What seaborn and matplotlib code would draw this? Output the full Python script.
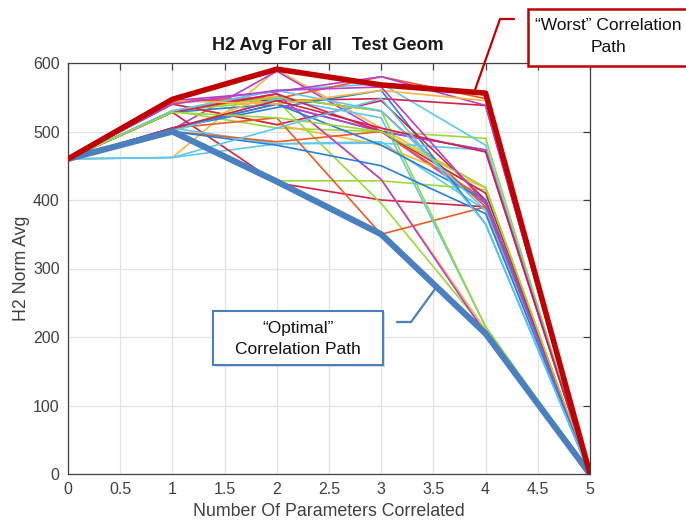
import numpy as np
import pandas as pd
import matplotlib
matplotlib.use("Agg")
import matplotlib.pyplot as plt
import seaborn as sns
from matplotlib.patches import Rectangle
from matplotlib.lines import Line2D

# Number of parameters correlated (x) and H2 norm averages along each path
n_params = [0, 1, 2, 3, 4, 5]
start_h2 = 460
end_h2 = 0

# H2 norm at 1..4 correlated parameters for each tested correlation order
path_mid_values = [
    [462, 590, 505, 418],
    [462, 482, 485, 385],
    [503, 588, 500, 395],
    [530, 505, 500, 490],
    [528, 425, 400, 390],
    [503, 428, 428, 415],
    [528, 540, 500, 473],
    [545, 550, 530, 390],
    [530, 560, 570, 480],
    [545, 545, 548, 538],
    [543, 548, 580, 548],
    [545, 558, 580, 538],
    [505, 535, 560, 365],
    [540, 510, 480, 418],
    [530, 545, 395, 210],
    [505, 482, 483, 473],
    [500, 485, 500, 400],
    [540, 510, 545, 400],
    [505, 540, 500, 473],
    [500, 555, 430, 210],
    [505, 520, 350, 390],
    [500, 548, 520, 215],
    [530, 555, 430, 205],
    [530, 550, 530, 215],
    [505, 540, 480, 400],
    [528, 555, 500, 410],
    [530, 560, 530, 385],
    [545, 540, 560, 545],
    [528, 520, 500, 418],
    [540, 560, 565, 395],
    [500, 480, 450, 380],
    [505, 545, 505, 470],
    [462, 505, 548, 365],
]
path_colors = ["#f6b93b", "#5cc8f2", "#b83fd0", "#9ad93a", "#d62045", "#9ad93a",
               "#2a7fd6", "#ee5a24", "#5cc8f2", "#d62045", "#ee5a24", "#b83fd0",
               "#2a7fd6", "#f6b93b", "#9ad93a", "#5cc8f2", "#ee5a24", "#d62045",
               "#b83fd0", "#f6b93b", "#ee5a24", "#5cc8f2", "#b83fd0", "#9ad93a",
               "#2a7fd6", "#d62045", "#5cc8f2", "#f6b93b", "#9ad93a", "#b83fd0",
               "#2a7fd6", "#d62045", "#5cc8f2"]

worst_path = [460, 547, 591, 568, 556, 0]
optimal_path = [460, 500, 427, 350, 205, 0]

x_ticks = [0, 0.5, 1, 1.5, 2, 2.5, 3, 3.5, 4, 4.5, 5]
x_tick_labels = ["0", "0.5", "1", "1.5", "2", "2.5", "3", "3.5", "4", "4.5", "5"]
y_ticks = [0, 100, 200, 300, 400, 500, 600]

sns.set_style("white")
plt.rcParams["font.family"] = ["Liberation Sans", "DejaVu Sans"]

rows = []
for i, mids in enumerate(path_mid_values):
    vals = [start_h2] + mids + [end_h2]
    for x, v in zip(n_params, vals):
        rows.append({"path": i, "n": x, "h2": v})
df = pd.DataFrame(rows)

W, H = 686, 525
fig = plt.figure(figsize=(W / 100, H / 100), dpi=100)
ax = fig.add_axes([68 / W, 1 - 474 / H, (590 - 68) / W, (474 - 63) / H])


def fx(px):
    return px / W


def fy(py):
    return 1 - py / H


sns.lineplot(data=df, x="n", y="h2", hue="path", palette=path_colors,
             estimator=None, sort=False, legend=False, lw=1.2, ax=ax, zorder=3)
sns.lineplot(x=n_params, y=optimal_path, color="#4a7fc0", lw=4.5,
             estimator=None, sort=False, ax=ax, zorder=4)
sns.lineplot(x=n_params, y=worst_path, color="#c00000", lw=4.0,
             estimator=None, sort=False, ax=ax, zorder=5)

ax.set_xlim(0, 5)
ax.set_ylim(0, 600)
ax.set_xticks(x_ticks)
ax.set_xticklabels(x_tick_labels)
ax.set_yticks(y_ticks)
ax.set_xlabel("")
ax.set_ylabel("")
ax.grid(True, color="#e2e2e2", lw=0.9, zorder=0)
ax.set_axisbelow(True)
ax.tick_params(direction="in", top=True, right=True, length=5, width=0.9,
               labelsize=11.5, labelcolor="#404040", color="#404040", pad=6)
for s in ax.spines.values():
    s.set_color("#404040")
    s.set_linewidth(0.9)

fig.text(fx(328), fy(45), "H2 Avg For all    Test Geom", ha="center", va="center",
         fontsize=13, fontweight="bold", color="#1a1a1a")
fig.text(fx(329), fy(512), "Number Of Parameters Correlated", ha="center",
         va="center", fontsize=12.8, color="#404040")
fig.text(fx(22), fy(268), "H2 Norm Avg", ha="center", va="center",
         rotation=90, fontsize=12.8, color="#404040")

to_fig = fig.transFigure.inverted()

# "Worst" callout
fig.patches.append(Rectangle((fx(528), fy(66)), (700 - 528) / W, (66 - 9) / H,
                             transform=fig.transFigure, facecolor="white",
                             edgecolor="#c00000", lw=1.8, zorder=10))
fig.text(fx(608), fy(25), "\u201cWorst\u201d Correlation", ha="center", va="center",
         fontsize=12.5, color="#111111", zorder=11)
fig.text(fx(608), fy(48), "Path", ha="center", va="center",
         fontsize=12.5, color="#111111", zorder=11)
tip = to_fig.transform(ax.transData.transform((3.89, 557)))
fig.lines.append(Line2D([fx(514), fx(500), tip[0]], [fy(19), fy(19), tip[1]],
                        transform=fig.transFigure, color="#c00000", lw=1.6,
                        zorder=10))

# "Optimal" callout
fig.patches.append(Rectangle((fx(215), fy(367)), (385 - 215) / W, (367 - 313) / H,
                             transform=fig.transFigure, facecolor="#c8c8c8",
                             edgecolor="none", zorder=9, alpha=0.6))
fig.patches.append(Rectangle((fx(213), fy(365)), (383 - 213) / W, (365 - 311) / H,
                             transform=fig.transFigure, facecolor="white",
                             edgecolor="#4a7fc0", lw=1.5, zorder=10))
fig.text(fx(298), fy(328), "\u201cOptimal\u201d", ha="center", va="center",
         fontsize=12.5, color="#111111", zorder=11)
fig.text(fx(298), fy(350), "Correlation Path", ha="center", va="center",
         fontsize=12.5, color="#111111", zorder=11)
tip2 = to_fig.transform(ax.transData.transform((3.53, 273)))
fig.lines.append(Line2D([fx(397), fx(411), tip2[0]], [fy(322), fy(322), tip2[1]],
                        transform=fig.transFigure, color="#4a7fc0", lw=1.6,
                        zorder=10))

fig.savefig("out.png", dpi=100)
